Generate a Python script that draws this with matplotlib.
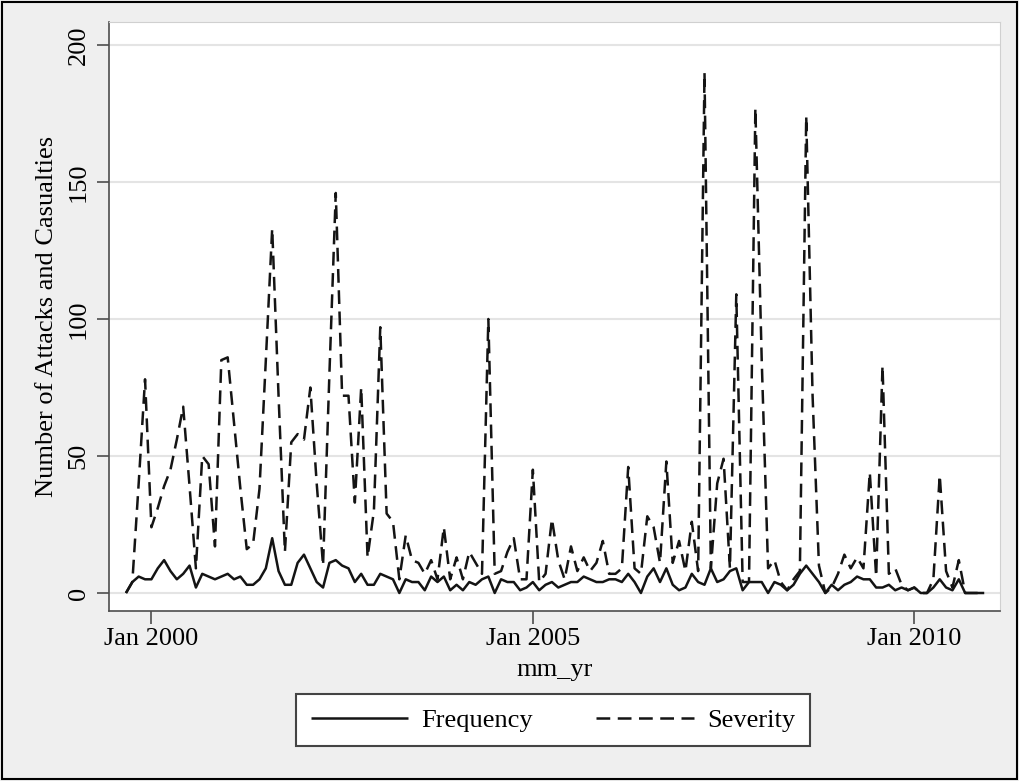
"""Monthly attacks (frequency) and casualties (severity), Stata tsline look-alike."""

import matplotlib
matplotlib.use("Agg")
import matplotlib.pyplot as plt
from matplotlib.patches import Rectangle
import numpy as np

# Stata %tm style month index: 0 = Jan 2000, series runs Sep 1999 .. Dec 2010
START_MONTH = -4

frequency = [
    0, 4, 6, 5,                                   # 1999 Sep-Dec
    5, 9, 12, 8, 5, 7, 10, 2, 7, 6, 5, 6,         # 2000
    7, 5, 6, 3, 3, 5, 9, 20, 8, 3, 3, 11,         # 2001
    14, 9, 4, 2, 11, 12, 10, 9, 4, 7, 3, 3,       # 2002
    7, 6, 5, 0, 5, 4, 4, 1, 6, 4, 6, 1,           # 2003
    3, 1, 4, 3, 5, 6, 0, 5, 4, 4, 1, 2,           # 2004
    4, 1, 3, 4, 2, 3, 4, 4, 6, 5, 4, 4,           # 2005
    5, 5, 4, 7, 4, 0, 6, 9, 4, 9, 3, 1,           # 2006
    2, 7, 4, 3, 9, 4, 5, 8, 9, 1, 4, 4,           # 2007
    4, 0, 4, 3, 1, 3, 7, 10, 7, 4, 0, 3,          # 2008
    1, 3, 4, 6, 5, 5, 2, 2, 3, 1, 2, 1,           # 2009
    2, 0, 0, 2, 5, 2, 1, 5, 0, 0, 0, 0,           # 2010
]

severity = [
    0, 4, 40, 78,
    24, 31, 39, 45, 56, 68, 39, 9, 50, 47, 17, 85,
    86, 62, 38, 16, 18, 38, 85, 133, 72, 15, 55, 58,
    56, 75, 40, 10, 80, 146, 72, 72, 33, 75, 13, 30,
    97, 29, 26, 5, 21, 12, 11, 7, 12, 5, 24, 5,
    13, 5, 15, 11, 7, 100, 7, 8, 15, 20, 5, 5,
    45, 4, 7, 27, 12, 5, 17, 8, 13, 8, 11, 19,
    7, 7, 9, 46, 9, 7, 28, 24, 11, 48, 11, 19,
    8, 26, 8, 190, 9, 40, 49, 9, 109, 4, 4, 177,
    85, 9, 12, 4, 1, 5, 8, 174, 72, 10, 0, 2,
    7, 14, 9, 13, 9, 44, 6, 83, 7, 9, 3, 1,
    2, 0, 0, 5, 43, 8, 2, 12, 0, 0, 0, 0,
]

tick_months = [0, 60, 120]
tick_labels = ["Jan 2000", "Jan 2005", "Jan 2010"]
y_ticks = [0, 50, 100, 150, 200]

W, H = 1019, 781
AXIS_GREY = "#4d4d4d"
LINE = "#141414"


def _set_style():
    plt.rcParams.update({
        "font.family": ["Liberation Serif", "DejaVu Serif"],
        "font.size": 19,
        "axes.linewidth": 1.2,
        "lines.solid_capstyle": "butt",
        "lines.solid_joinstyle": "round",
        "lines.dash_joinstyle": "round",
    })


def main():
    _set_style()
    months = np.arange(START_MONTH, START_MONTH + len(frequency))

    fig = plt.figure(figsize=(W / 100, H / 100), dpi=100, facecolor="#efefef")
    left, right, top, bottom = 109, 1000, 22, 611
    ax = fig.add_axes([left / W, 1 - bottom / H, (right - left) / W, (bottom - top) / H])
    ax.set_facecolor("white")

    ax.plot(months, frequency, color=LINE, lw=1.8, label="Frequency")
    ax.plot(months, severity, color=LINE, lw=1.8, ls=(0, (5.5, 3)),
            label="Severity")

    # 0 at y=593px, 200 at y=45px
    ppu = (593 - 45) / 200
    ax.set_ylim(-(bottom - 593) / ppu, (593 - top) / ppu)
    x0, ppm = 151.4, (914.3 - 151.4) / 120
    ax.set_xlim((left - x0) / ppm, (right - x0) / ppm)

    ax.set_yticks(y_ticks)
    ax.set_xticks(tick_months)
    ax.set_xticklabels(tick_labels)
    ax.yaxis.grid(True, color="#e4e4e4", lw=1.5)
    ax.set_axisbelow(True)
    ax.tick_params(axis="both", direction="out", length=9, width=1.2,
                   color=AXIS_GREY)
    ax.tick_params(axis="y", labelrotation=90, pad=5)
    ax.tick_params(axis="x", pad=3)
    for lbl in ax.get_yticklabels():
        lbl.set_va("center")

    for side in ("left", "bottom"):
        ax.spines[side].set_color(AXIS_GREY)
    for side in ("top", "right"):
        ax.spines[side].set_color("#d0d0d0")
        ax.spines[side].set_linewidth(0.8)

    ax.set_xlabel("mm_yr")
    ax.xaxis.set_label_coords(0.5, -(659 - bottom) / (bottom - top))
    ax.set_ylabel("Number of Attacks and Casualties")
    ax.yaxis.set_label_coords(-(left - 58) / (right - left), 0.5)

    leg = fig.legend(loc="center", bbox_to_anchor=(553 / W, 1 - 720 / H),
                     ncol=2, handlelength=3.7, handletextpad=0.5,
                     columnspacing=2.4, borderpad=0.55, fancybox=False,
                     framealpha=1, edgecolor="#444444", facecolor="white")
    leg.get_frame().set_linewidth(1.5)

    fig.patches.append(Rectangle((2 / W, 2 / H), 1 - 4 / W, 1 - 4 / H,
                                 transform=fig.transFigure, fill=False,
                                 edgecolor="black", lw=1.5))

    fig.savefig("out.png", dpi=100, facecolor=fig.get_facecolor())
    plt.close(fig)


if __name__ == "__main__":
    main()
